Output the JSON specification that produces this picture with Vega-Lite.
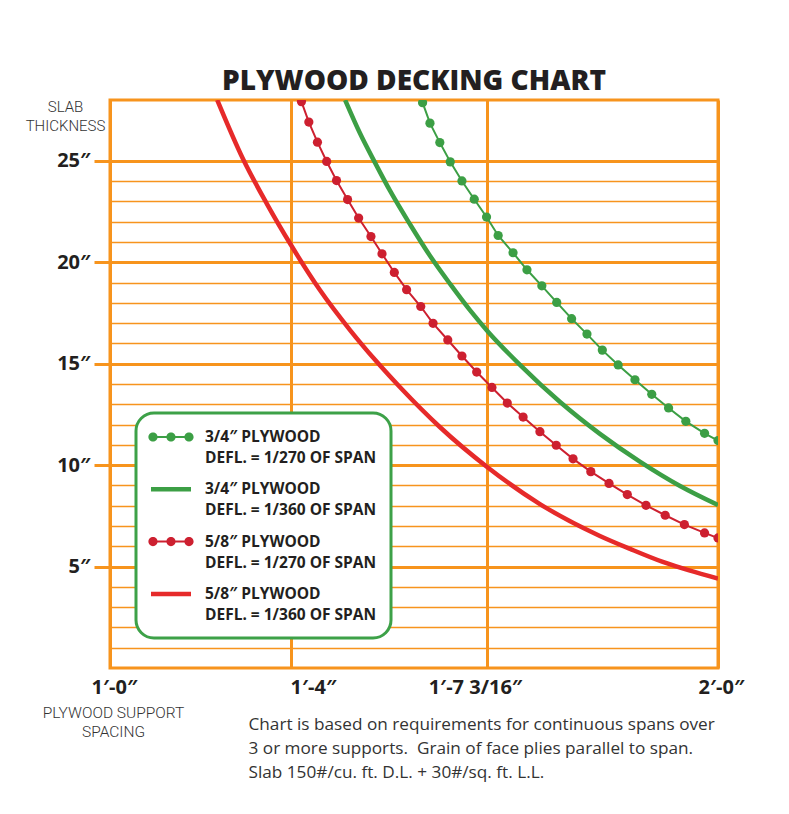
{
  "$schema": "https://vega.github.io/schema/vega-lite/v6.json",
  "width": 608,
  "height": 568,
  "autosize": {"type": "none"},
  "padding": {"left": 110, "top": 100, "right": 71, "bottom": 146},
  "background": "white",
  "title": {
    "text": "PLYWOOD DECKING CHART",
    "font": "Open Sans",
    "fontSize": 28,
    "fontWeight": 800,
    "color": "#231F20",
    "anchor": "middle",
    "offset": 3
  },
  "datasets": {
    "curves": [
      {"series": "3/4″ 1/270", "spacing": 18.14, "thickness": 27.87},
      {"series": "3/4″ 1/270", "spacing": 18.26, "thickness": 26.86},
      {"series": "3/4″ 1/270", "spacing": 18.42, "thickness": 25.90},
      {"series": "3/4″ 1/270", "spacing": 18.59, "thickness": 24.95},
      {"series": "3/4″ 1/270", "spacing": 18.78, "thickness": 24.01},
      {"series": "3/4″ 1/270", "spacing": 18.98, "thickness": 23.11},
      {"series": "3/4″ 1/270", "spacing": 19.18, "thickness": 22.23},
      {"series": "3/4″ 1/270", "spacing": 19.42, "thickness": 21.32},
      {"series": "3/4″ 1/270", "spacing": 19.73, "thickness": 20.47},
      {"series": "3/4″ 1/270", "spacing": 20.02, "thickness": 19.63},
      {"series": "3/4″ 1/270", "spacing": 20.33, "thickness": 18.84},
      {"series": "3/4″ 1/270", "spacing": 20.64, "thickness": 18.02},
      {"series": "3/4″ 1/270", "spacing": 20.95, "thickness": 17.22},
      {"series": "3/4″ 1/270", "spacing": 21.27, "thickness": 16.46},
      {"series": "3/4″ 1/270", "spacing": 21.59, "thickness": 15.67},
      {"series": "3/4″ 1/270", "spacing": 21.92, "thickness": 14.94},
      {"series": "3/4″ 1/270", "spacing": 22.27, "thickness": 14.21},
      {"series": "3/4″ 1/270", "spacing": 22.62, "thickness": 13.49},
      {"series": "3/4″ 1/270", "spacing": 22.97, "thickness": 12.82},
      {"series": "3/4″ 1/270", "spacing": 23.33, "thickness": 12.16},
      {"series": "3/4″ 1/270", "spacing": 23.72, "thickness": 11.57},
      {"series": "3/4″ 1/270", "spacing": 24.00, "thickness": 11.21},
      {"series": "3/4″ 1/360", "spacing": 16.88, "thickness": 28.0},
      {"series": "3/4″ 1/360", "spacing": 17.12, "thickness": 26.37},
      {"series": "3/4″ 1/360", "spacing": 17.37, "thickness": 24.89},
      {"series": "3/4″ 1/360", "spacing": 17.61, "thickness": 23.53},
      {"series": "3/4″ 1/360", "spacing": 17.94, "thickness": 21.85},
      {"series": "3/4″ 1/360", "spacing": 18.26, "thickness": 20.32},
      {"series": "3/4″ 1/360", "spacing": 18.59, "thickness": 18.92},
      {"series": "3/4″ 1/360", "spacing": 18.91, "thickness": 17.64},
      {"series": "3/4″ 1/360", "spacing": 19.19, "thickness": 16.63},
      {"series": "3/4″ 1/360", "spacing": 19.88, "thickness": 14.93},
      {"series": "3/4″ 1/360", "spacing": 20.71, "thickness": 13.11},
      {"series": "3/4″ 1/360", "spacing": 21.54, "thickness": 11.54},
      {"series": "3/4″ 1/360", "spacing": 22.38, "thickness": 10.16},
      {"series": "3/4″ 1/360", "spacing": 23.21, "thickness": 8.97},
      {"series": "3/4″ 1/360", "spacing": 24.00, "thickness": 8.03},
      {"series": "5/8″ 1/270", "spacing": 16.17, "thickness": 27.92},
      {"series": "5/8″ 1/270", "spacing": 16.29, "thickness": 26.91},
      {"series": "5/8″ 1/270", "spacing": 16.43, "thickness": 25.92},
      {"series": "5/8″ 1/270", "spacing": 16.58, "thickness": 24.97},
      {"series": "5/8″ 1/270", "spacing": 16.74, "thickness": 24.03},
      {"series": "5/8″ 1/270", "spacing": 16.92, "thickness": 23.09},
      {"series": "5/8″ 1/270", "spacing": 17.10, "thickness": 22.18},
      {"series": "5/8″ 1/270", "spacing": 17.30, "thickness": 21.27},
      {"series": "5/8″ 1/270", "spacing": 17.48, "thickness": 20.42},
      {"series": "5/8″ 1/270", "spacing": 17.68, "thickness": 19.50},
      {"series": "5/8″ 1/270", "spacing": 17.88, "thickness": 18.65},
      {"series": "5/8″ 1/270", "spacing": 18.11, "thickness": 17.82},
      {"series": "5/8″ 1/270", "spacing": 18.31, "thickness": 16.99},
      {"series": "5/8″ 1/270", "spacing": 18.55, "thickness": 16.17},
      {"series": "5/8″ 1/270", "spacing": 18.78, "thickness": 15.38},
      {"series": "5/8″ 1/270", "spacing": 19.02, "thickness": 14.59},
      {"series": "5/8″ 1/270", "spacing": 19.29, "thickness": 13.83},
      {"series": "5/8″ 1/270", "spacing": 19.61, "thickness": 13.06},
      {"series": "5/8″ 1/270", "spacing": 19.94, "thickness": 12.37},
      {"series": "5/8″ 1/270", "spacing": 20.29, "thickness": 11.65},
      {"series": "5/8″ 1/270", "spacing": 20.63, "thickness": 10.98},
      {"series": "5/8″ 1/270", "spacing": 20.98, "thickness": 10.31},
      {"series": "5/8″ 1/270", "spacing": 21.35, "thickness": 9.68},
      {"series": "5/8″ 1/270", "spacing": 21.73, "thickness": 9.10},
      {"series": "5/8″ 1/270", "spacing": 22.11, "thickness": 8.55},
      {"series": "5/8″ 1/270", "spacing": 22.50, "thickness": 8.02},
      {"series": "5/8″ 1/270", "spacing": 22.90, "thickness": 7.53},
      {"series": "5/8″ 1/270", "spacing": 23.30, "thickness": 7.07},
      {"series": "5/8″ 1/270", "spacing": 23.72, "thickness": 6.66},
      {"series": "5/8″ 1/270", "spacing": 24.00, "thickness": 6.41},
      {"series": "5/8″ 1/360", "spacing": 14.37, "thickness": 28.0},
      {"series": "5/8″ 1/360", "spacing": 14.94, "thickness": 25.09},
      {"series": "5/8″ 1/360", "spacing": 15.47, "thickness": 22.87},
      {"series": "5/8″ 1/360", "spacing": 16.00, "thickness": 20.85},
      {"series": "5/8″ 1/360", "spacing": 16.47, "thickness": 18.63},
      {"series": "5/8″ 1/360", "spacing": 16.96, "thickness": 16.66},
      {"series": "5/8″ 1/360", "spacing": 17.37, "thickness": 15.18},
      {"series": "5/8″ 1/360", "spacing": 17.77, "thickness": 13.85},
      {"series": "5/8″ 1/360", "spacing": 18.42, "thickness": 11.88},
      {"series": "5/8″ 1/360", "spacing": 19.19, "thickness": 9.91},
      {"series": "5/8″ 1/360", "spacing": 20.29, "thickness": 8.08},
      {"series": "5/8″ 1/360", "spacing": 21.54, "thickness": 6.51},
      {"series": "5/8″ 1/360", "spacing": 22.17, "thickness": 5.87},
      {"series": "5/8″ 1/360", "spacing": 22.85, "thickness": 5.23},
      {"series": "5/8″ 1/360", "spacing": 23.40, "thickness": 4.81},
      {"series": "5/8″ 1/360", "spacing": 24.00, "thickness": 4.41}
    ]
  },
  "data": {"name": "curves"},
  "encoding": {
    "x": {
      "field": "spacing",
      "type": "quantitative",
      "scale": {"domain": [12, 16, 19.1875, 24], "range": [0, 181, 377, 608], "nice": false, "zero": false},
      "axis": {
        "values": [12, 16, 19.1875, 24],
        "labelExpr": "datum.value == 12 ? '1′-0″' : datum.value == 16 ? '1′-4″' : datum.value == 24 ? '2′-0″' : '1′-7 3/16″'",
        "ticks": false,
        "tickSize": 0,
        "domain": false,
        "grid": true,
        "gridColor": "#F7941D",
        "gridWidth": 3,
        "labelFont": "Open Sans",
        "labelFontSize": 20,
        "labelFontWeight": "bold",
        "labelColor": "#231F20",
        "labelPadding": 9,
        "labelBaseline": "top",
        "labelFlush": false,
        "labelOverlap": false,
        "labelOffset": {"condition": [{"test": "datum.value == 12", "value": 4}, {"test": "datum.value == 16", "value": 22}, {"test": "datum.value < 20", "value": -12}], "value": 3},
        "title": ["PLYWOOD SUPPORT", "SPACING"],
        "titleX": 3,
        "titleY": 37,
        "titleAlign": "center",
        "titleAnchor": null,
        "titleBaseline": "top",
        "titleFont": "Roboto",
        "titleFontSize": 15.5,
        "titleFontWeight": 300,
        "titleColor": "#333333",
        "titleLineHeight": 19
      }
    },
    "color": {
      "field": "series",
      "type": "nominal",
      "scale": {"domain": ["3/4″ 1/270", "3/4″ 1/360", "5/8″ 1/270", "5/8″ 1/360"], "range": ["#3C9F45", "#3C9F45", "#CD2030", "#E62A2A"]},
      "legend": {
        "orient": "none",
        "legendX": 26,
        "legendY": 313,
        "title": null,
        "fillColor": "white",
        "strokeColor": "#3DA148",
        "cornerRadius": 18,
        "padding": 14,
        "rowPadding": 12.3,
        "symbolSize": 400,
        "symbolOffset": 11,
        "symbolStrokeWidth": 0,
        "symbolOpacity": 1,
        "labelFont": "Open Sans",
        "labelFontSize": 15.5,
        "labelFontWeight": "bold",
        "labelColor": "#231F20",
        "labelLimit": 320,
        "labelOffset": 24,
        "labelBaseline": "middle",
        "labelExpr": "[slice(datum.label, 0, 4) + ' PLYWOOD', 'DEFL. = ' + slice(datum.label, 5) + ' OF SPAN']",
        "encode": {
          "legend": {"update": {"strokeWidth": {"value": 3}}},
          "symbols": {
            "update": {
              "shape": {"signal": "indexof(datum.value, '1/270') >= 0 ? 'M-2.26,0a0.46,0.46 0 1,1 0.92,0a0.46,0.46 0 1,1 -0.92,0ZM-0.46,0a0.46,0.46 0 1,1 0.92,0a0.46,0.46 0 1,1 -0.92,0ZM1.34,0a0.46,0.46 0 1,1 0.92,0a0.46,0.46 0 1,1 -0.92,0ZM-1.8,-0.1L1.8,-0.1L1.8,0.1L-1.8,0.1Z' : 'M-2,-0.225L2,-0.225L2,0.225L-2,0.225Z'"},
              "fill": {"scale": "color", "field": "value"},
              "strokeWidth": {"value": 0}
            }
          },
          "labels": {
            "update": {"lineHeight": {"value": 21.2}}
          }
        }
      }
    }
  },
  "layer": [
    {
      "encoding": {
        "y": {
          "field": "thickness",
          "type": "quantitative",
          "scale": {"domain": [0, 28], "nice": false, "zero": true},
          "axis": {
            "values": [1, 2, 3, 4, 5, 6, 7, 8, 9, 10, 11, 12, 13, 14, 15, 16, 17, 18, 19, 20, 21, 22, 23, 24, 25],
            "labelExpr": "datum.value % 5 === 0 ? datum.value + '″' : ''",
            "domain": false,
            "grid": true,
            "gridColor": "#F7941D",
            "gridWidth": {"condition": {"test": "datum.value % 5 === 0", "value": 3}, "value": 1.5},
            "ticks": true,
            "tickSize": 16,
            "tickWidth": 3,
            "tickColor": "#F7941D",
            "tickOpacity": {"condition": {"test": "datum.value % 5 === 0", "value": 1}, "value": 0},
            "labelFont": "Open Sans",
            "labelFontSize": 20,
            "labelFontWeight": "bold",
            "labelColor": "#231F20",
            "labelPadding": 4,
            "labelOverlap": false,
            "title": ["SLAB", "THICKNESS"],
            "titleAngle": 0,
            "titleX": -45,
            "titleY": -1,
            "titleAlign": "center",
            "titleAnchor": null,
            "titleBaseline": "top",
            "titleFont": "Roboto",
            "titleFontSize": 15,
            "titleFontWeight": 300,
            "titleColor": "#333333",
            "titleLineHeight": 19
          }
        }
      },
      "layer": [
        {
          "transform": [{"filter": {"field": "series", "oneOf": ["3/4″ 1/360", "5/8″ 1/360"]}}],
          "mark": {"type": "line", "strokeWidth": 4.5, "clip": true, "interpolate": "monotone"}
        },
        {
          "transform": [{"filter": {"field": "series", "oneOf": ["3/4″ 1/270", "5/8″ 1/270"]}}],
          "mark": {"type": "point", "shape": "circle", "filled": true, "opacity": 1, "size": 85, "clip": true}
        }
      ]
    },
    {
      "transform": [{"filter": {"field": "series", "oneOf": ["3/4″ 1/270", "5/8″ 1/270"]}}],
      "mark": {"type": "line", "strokeWidth": 2, "clip": true},
      "encoding": {
        "y": {
          "field": "thickness",
          "type": "quantitative",
          "scale": {"domain": [0, 28], "nice": false, "zero": true},
          "axis": {
            "orient": "right",
            "labels": false,
            "ticks": false,
            "domain": false,
            "grid": false,
            "title": ["Chart is based on requirements for continuous spans over", "3 or more supports.\u00a0 Grain of face plies parallel to span.", "Slab 150#/cu. ft. D.L. + 30#/sq. ft. L.L."],
            "titleAngle": 0,
            "titleAlign": "left",
            "titleAnchor": null,
            "titleBaseline": "alphabetic",
            "titleX": -470,
            "titleY": 629,
            "titleFont": "Open Sans",
            "titleFontSize": 17.2,
            "titleFontWeight": "normal",
            "titleColor": "#333333",
            "titleLineHeight": 24,
            "titleLimit": 700
          }
        }
      }
    }
  ],
  "resolve": {"axis": {"y": "independent"}},
  "config": {
    "view": {"stroke": "#F7941D", "strokeWidth": 3}
  }
}
